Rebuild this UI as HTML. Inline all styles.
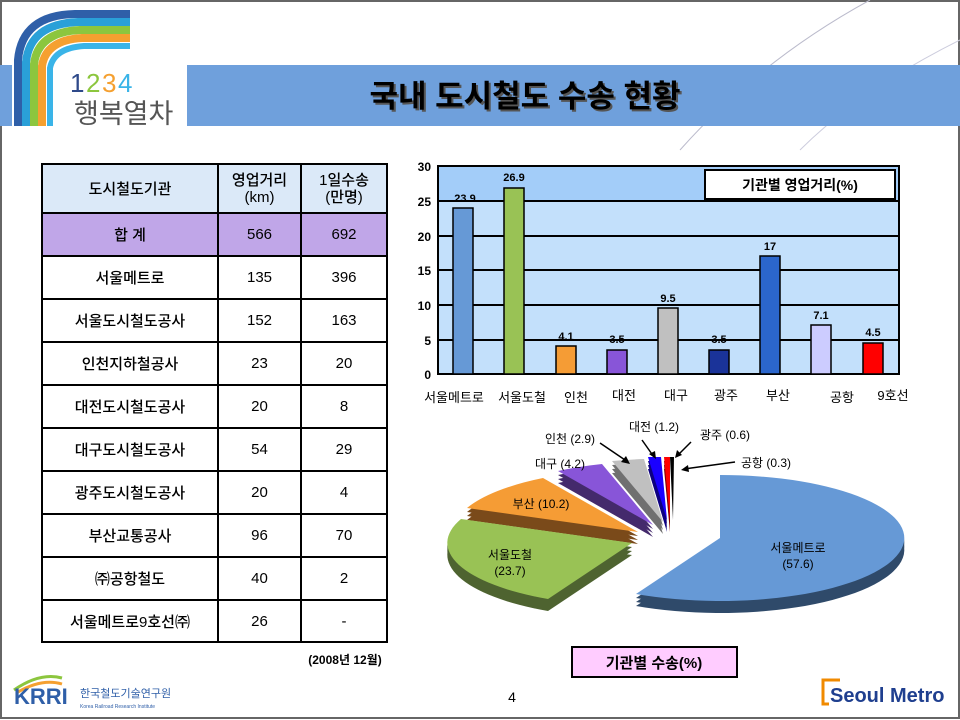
<!DOCTYPE html>
<html><head><meta charset="utf-8"><style>
body{margin:0;width:960px;height:720px;overflow:hidden;background:#fff;font-family:"Liberation Sans","Noto Sans CJK KR","NanumGothic",sans-serif;}
.wrap{position:relative;width:960px;height:720px;}
table{position:absolute;left:41px;top:163px;border-collapse:collapse;}
td{border:2px solid #000;text-align:center;font-size:15px;color:#000;padding:0;font-weight:500;}
</style></head><body><div class="wrap">
<svg width="960" height="720" style="position:absolute;left:0;top:0">
<rect x="1" y="1" width="958" height="717" fill="none" stroke="#666" stroke-width="2"/>
<path d="M870 0 Q 760 60 680 150" stroke="#bbc" fill="none" stroke-width="1"/>
<path d="M960 40 Q 860 90 800 150" stroke="#ccd" fill="none" stroke-width="1"/>
<rect x="0" y="65" width="12" height="61" fill="#6fa0dc"/>
<rect x="187" y="65" width="773" height="61" fill="#6fa0dc"/>
<!-- rainbow logo -->
<path d="M18 126 L18 60 Q22 15 75 14 L130 14" stroke="#2f5fa8" stroke-width="8" fill="none"/>
<path d="M26 126 L26 62 Q30 24 78 22 L130 22" stroke="#2aa0d8" stroke-width="8" fill="none"/>
<path d="M34 126 L34 64 Q38 32 80 30 L130 30" stroke="#8cc63e" stroke-width="8" fill="none"/>
<path d="M42 126 L42 66 Q46 40 82 38 L130 38" stroke="#f5a030" stroke-width="8" fill="none"/>
<path d="M50 126 L50 68 Q54 48 84 46 L130 46" stroke="#3ab4e8" stroke-width="6" fill="none"/>
<text x="70" y="92" font-size="26" fill="#2f4a8a" font-family="Liberation Sans">1</text>
<text x="86" y="92" font-size="26" fill="#8cc63e" font-family="Liberation Sans">2</text>
<text x="102" y="92" font-size="26" fill="#f5a030" font-family="Liberation Sans">3</text>
<text x="118" y="92" font-size="26" fill="#3ab4e8" font-family="Liberation Sans">4</text>
<text x="74" y="123" font-size="27" fill="#555">행복열차</text>
<text x="525" y="107" font-size="31" font-weight="bold" fill="#555" text-anchor="middle" transform="translate(2,2)">국내 도시철도 수송 현황</text>
<text x="525" y="107" font-size="31" font-weight="bold" fill="#000" text-anchor="middle">국내 도시철도 수송 현황</text>

<!-- bar chart -->
<rect x="438" y="166" width="461" height="35" fill="#a3cdf9"/>
<rect x="438" y="201" width="461" height="173" fill="#c3e0fb"/>
<g stroke="#000" stroke-width="2">
<line x1="438" y1="201" x2="899" y2="201"/><line x1="438" y1="236" x2="899" y2="236"/>
<line x1="438" y1="270" x2="899" y2="270"/><line x1="438" y1="305" x2="899" y2="305"/>
<line x1="438" y1="340" x2="899" y2="340"/>
<rect x="438" y="166" width="461" height="208" fill="none"/>
</g>
<g font-size="12" font-weight="bold" text-anchor="end" font-family="Liberation Sans">
<text x="431" y="171">30</text><text x="431" y="206">25</text><text x="431" y="241">20</text><text x="431" y="275">15</text><text x="431" y="310">10</text><text x="431" y="345">5</text><text x="431" y="379">0</text></g>
<g stroke="#000" stroke-width="1.5">
<rect x="453" y="208" width="20" height="166" fill="#6699d6"/>
<rect x="504" y="188" width="20" height="186" fill="#99c255"/>
<rect x="556" y="346" width="20" height="28" fill="#f59c35"/>
<rect x="607" y="350" width="20" height="24" fill="#8855d8"/>
<rect x="658" y="308" width="20" height="66" fill="#c0c0c0"/>
<rect x="709" y="350" width="20" height="24" fill="#1a3399"/>
<rect x="760" y="256" width="20" height="118" fill="#2b66cc"/>
<rect x="811" y="325" width="20" height="49" fill="#ccccff"/>
<rect x="863" y="343" width="20" height="31" fill="#ff0000"/>
</g>
<g font-size="11" font-weight="bold" text-anchor="middle" font-family="Liberation Sans">
<text x="465" y="202">23.9</text><text x="514" y="181">26.9</text><text x="566" y="340">4.1</text>
<text x="617" y="343">3.5</text><text x="668" y="302">9.5</text><text x="719" y="343">3.5</text>
<text x="770" y="250">17</text><text x="821" y="319">7.1</text><text x="873" y="336">4.5</text></g>
<g font-size="13" text-anchor="middle">
<text x="454" y="402">서울메트로</text><text x="522" y="402">서울도철</text><text x="576" y="402">인천</text>
<text x="624" y="400">대전</text><text x="676" y="400">대구</text><text x="726" y="400">광주</text>
<text x="778" y="400">부산</text><text x="842" y="402">공항</text><text x="893" y="400">9호선</text></g>
<rect x="705" y="170" width="190" height="29" fill="#fff" stroke="#000" stroke-width="2"/>
<text x="800" y="190" font-size="14" font-weight="bold" text-anchor="middle">기관별 영업거리(%)</text>

<!-- pie -->
<defs>
<g id="sm"><path d="M720 538 L720 475 A184 63 0 1 1 636 594 Z"/></g>
<g id="gr"><path d="M632 543 L548 599 A184 63 0 0 1 461 519 Z"/></g>
<g id="or"><path d="M638 532 L467 508 A184 63 0 0 1 543 478 Z"/></g>
<g id="pu"><path d="M653 525 L558 471 A184 63 0 0 1 602 464 Z"/></g>
<g id="ga"><path d="M663 522 L612 461 A184 63 0 0 1 644 459 Z"/></g>
<g id="bl"><path d="M667 520 L648 457 A184 63 0 0 1 661 457 Z"/></g>
<g id="rd"><path d="M670 520 L664 457 A184 63 0 0 1 670 457 Z"/></g>
<g id="bk"><path d="M673 520 L670 457 A184 63 0 0 1 674 457 Z"/></g>
</defs>
<g fill="#2f4a6a"><use href="#sm" y="4"/><use href="#sm" y="8"/><use href="#sm" y="12"/></g>
<g fill="#4e6330"><use href="#gr" y="4"/><use href="#gr" y="8"/><use href="#gr" y="12"/></g>
<g fill="#7a4a1a"><use href="#or" y="4"/><use href="#or" y="8"/><use href="#or" y="12"/></g>
<g fill="#442a6c"><use href="#pu" y="4"/><use href="#pu" y="8"/><use href="#pu" y="12"/></g>
<g fill="#707070"><use href="#ga" y="4"/><use href="#ga" y="8"/><use href="#ga" y="12"/></g>
<g fill="#0d0080"><use href="#bl" y="4"/><use href="#bl" y="8"/><use href="#bl" y="12"/></g>
<g fill="#800000"><use href="#rd" y="4"/><use href="#rd" y="8"/><use href="#rd" y="12"/></g>
<use href="#sm" fill="#6699d6"/><use href="#gr" fill="#99c255"/><use href="#or" fill="#f59c35"/>
<use href="#pu" fill="#8855d8"/><use href="#ga" fill="#c0c0c0"/><use href="#bl" fill="#1a00ff"/>
<use href="#rd" fill="#ff0000"/><use href="#bk" fill="#000"/>
<g font-size="12" text-anchor="middle">
<text x="798" y="552">서울메트로</text><text x="798" y="568">(57.6)</text>
<text x="510" y="559">서울도철</text><text x="510" y="575">(23.7)</text>
<text x="541" y="508">부산 (10.2)</text><text x="560" y="468">대구 (4.2)</text>
<text x="570" y="443">인천 (2.9)</text><text x="654" y="431">대전 (1.2)</text>
<text x="725" y="439">광주 (0.6)</text><text x="766" y="467">공항 (0.3)</text></g>
<g stroke="#000" stroke-width="1.5">
<line x1="600" y1="443" x2="628" y2="462"/><line x1="642" y1="440" x2="654" y2="457"/>
<line x1="691" y1="442" x2="677" y2="456"/><line x1="735" y1="462" x2="684" y2="469"/></g>
<g fill="#000"><path d="M630 464 L621 462 L626 456Z"/><path d="M656 459 L649 454 L655 451Z"/><path d="M675 458 L677 450 L682 455Z"/><path d="M681 470 L688 465 L689 472Z"/></g>
<rect x="572" y="647" width="165" height="30" fill="#ffccff" stroke="#000" stroke-width="2"/>
<text x="654" y="668" font-size="15" font-weight="bold" text-anchor="middle">기관별 수송(%)</text>

<!-- footer -->
<text x="345" y="664" font-size="12" font-weight="bold" text-anchor="middle">(2008년 12월)</text>
<path d="M14 690 Q40 672 62 678" stroke="#8cc63e" stroke-width="3" fill="none"/>
<path d="M18 692 Q42 678 62 684" stroke="#f5a030" stroke-width="3" fill="none"/>
<text x="14" y="704" font-size="22" font-weight="bold" fill="#2f5fa8" font-family="Liberation Sans">KRRI</text>
<text x="80" y="697" font-size="11" fill="#2f5fa8">한국철도기술연구원</text>
<text x="80" y="708" font-size="5" fill="#2f5fa8" font-family="Liberation Sans">Korea Railroad Research Institute</text>
<text x="512" y="702" font-size="14" text-anchor="middle" font-family="Liberation Sans">4</text>
<path d="M829 704 L823 704 L823 680 L840 680" stroke="#f08a00" stroke-width="3" fill="none"/>
<text x="830" y="702" font-size="20" font-weight="bold" fill="#1f3f8f" font-family="Liberation Sans">Seoul Metro</text>
</svg>
<table>
<tr style="height:49px;background:#dbe9f8"><td style="width:174px">도시철도기관</td><td style="width:81px;line-height:17px">영업거리<br>(km)</td><td style="width:84px;line-height:17px">1일수송<br>(만명)</td></tr>
<tr style="height:43px;background:#c0a6e8"><td>합 계</td><td>566</td><td>692</td></tr>
<tr style="height:43px"><td>서울메트로</td><td>135</td><td>396</td></tr>
<tr style="height:43px"><td>서울도시철도공사</td><td>152</td><td>163</td></tr>
<tr style="height:43px"><td>인천지하철공사</td><td>23</td><td>20</td></tr>
<tr style="height:43px"><td>대전도시철도공사</td><td>20</td><td>8</td></tr>
<tr style="height:43px"><td>대구도시철도공사</td><td>54</td><td>29</td></tr>
<tr style="height:43px"><td>광주도시철도공사</td><td>20</td><td>4</td></tr>
<tr style="height:43px"><td>부산교통공사</td><td>96</td><td>70</td></tr>
<tr style="height:43px"><td>㈜공항철도</td><td>40</td><td>2</td></tr>
<tr style="height:42px"><td>서울메트로9호선㈜</td><td>26</td><td>-</td></tr>
</table>
</div></body></html>
